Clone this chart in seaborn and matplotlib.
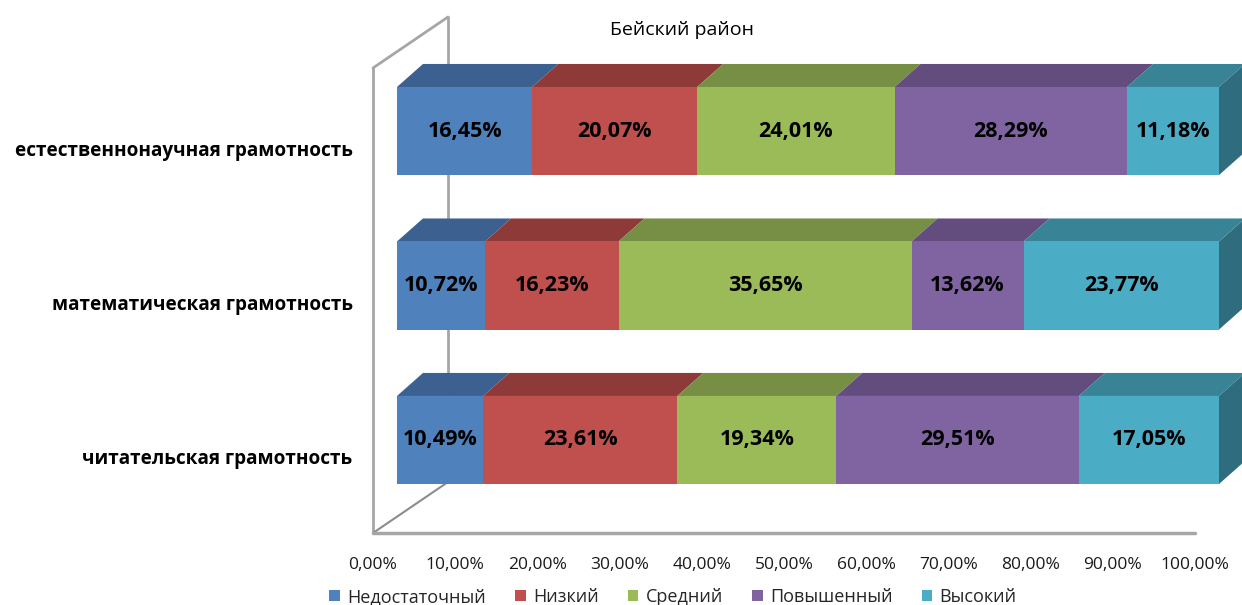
import matplotlib
matplotlib.use("Agg")
import matplotlib.pyplot as plt
from matplotlib.patches import Polygon, Patch
from matplotlib.transforms import ScaledTranslation
import numpy as np
import pandas as pd
import seaborn as sns

# Данные
categories = ["естественнонаучная грамотность", "математическая грамотность", "читательская грамотность"]
levels = ["Недостаточный", "Низкий", "Средний", "Повышенный", "Высокий"]
nedostatochny = [16.45, 10.72, 10.49]
nizky = [20.07, 16.23, 23.61]
sredny = [24.01, 35.65, 19.34]
povyshenny = [28.29, 13.62, 29.51]
vysoky = [11.18, 23.77, 17.05]
xticks = [0, 10, 20, 30, 40, 50, 60, 70, 80, 90, 100]
title = "Бейский район"

front_colors = ["#4F81BD", "#C0504D", "#9BBB59", "#8064A2", "#4BACC6"]
top_colors = ["#3C6190", "#8E3A38", "#778F44", "#634D7E", "#398397"]
side_color = "#2F6D7E"
wall_color = "#A6A6A6"

sns.set_style("white")
plt.rcParams["font.family"] = ["Open Sans", "DejaVu Sans"]

df = pd.DataFrame(
    {"cat": categories, levels[0]: nedostatochny, levels[1]: nizky,
     levels[2]: sredny, levels[3]: povyshenny, levels[4]: vysoky}
)
cum = df[levels].cumsum(axis=1)

fig = plt.figure(figsize=(12.42, 6.05), dpi=100)
ax = fig.add_axes([397 / 1242, 72 / 605, 822 / 1242, 516 / 605])

bar_h = 0.57
dx, dy = 3.16, 0.149  # глубина 3D в единицах данных

# передние грани: накопленные суммы, от большего к меньшему
for lev, col in reversed(list(zip(levels, front_colors))):
    sns.barplot(x=cum[lev], y=df["cat"], orient="h", color=col, width=bar_h,
                saturation=1, ax=ax, zorder=3, linewidth=0)

# верхние и боковые грани
for j in range(len(categories)):
    top = j - bar_h / 2
    left = 0.0
    for k, lev in enumerate(levels):
        right = cum.loc[j, lev]
        ax.add_patch(Polygon([(left, top), (right, top), (right + dx, top - dy), (left + dx, top - dy)],
                             closed=True, facecolor=top_colors[k], edgecolor="none", zorder=2,
                             clip_on=False))
        val = df.loc[j, lev]
        ax.text((left + right) / 2, j, f"{val:.2f}%".replace(".", ","), ha="center", va="center",
                fontsize=15.5, fontweight="bold", color="black", zorder=5)
        left = right
    ax.add_patch(Polygon([(100, top), (100 + dx, top - dy), (100 + dx, j + bar_h / 2 - dy), (100, j + bar_h / 2)],
                         closed=True, facecolor=side_color, edgecolor="none", zorder=2, clip_on=False))

ax.set_xlim(0, 100)
ax.set_ylim(2.602, -0.738)

# стенки и пол
fx, bx = -2.92, 6.2
ax.plot([fx, fx], [2.602, -0.408], color=wall_color, lw=2, clip_on=False, zorder=1)
ax.plot([fx, bx], [-0.408, -0.738], color=wall_color, lw=2, clip_on=False, zorder=1)
ax.plot([bx, bx], [-0.738, 2.272], color=wall_color, lw=2, clip_on=False, zorder=1)
ax.plot([fx, bx], [2.602, 2.272], color="#8C8C8C", lw=1.5, clip_on=False, zorder=1)
ax.plot([fx, 100 + fx], [2.602, 2.602], color=wall_color, lw=2.5, clip_on=False, zorder=1)

for s in ax.spines.values():
    s.set_visible(False)

ax.set_xticks(xticks)
ax.set_xticklabels([f"{t:.2f}%".replace(".", ",") for t in xticks], fontsize=12.5, color="#1A1A1A")
ax.tick_params(axis="x", length=0, pad=17)
for lbl in ax.get_xticklabels():
    lbl.set_transform(lbl.get_transform() + ScaledTranslation(-0.24, 0, fig.dpi_scale_trans))

ax.set_yticks(range(len(categories)))
ax.set_yticklabels(categories, fontsize=13.7, fontweight="bold", color="black")
ax.tick_params(axis="y", length=0, pad=32)
for lbl in ax.get_yticklabels():
    lbl.set_transform(lbl.get_transform() + ScaledTranslation(0, -0.17, fig.dpi_scale_trans))
ax.set_xlabel("")
ax.set_ylabel("")

fig.text(682 / 1242, 1 - 30 / 605, title, ha="center", va="center", fontsize=14, color="black")

handles = [Patch(facecolor=c, edgecolor="none", label=l) for l, c in zip(levels, front_colors)]
fig.legend(handles=handles, loc="center", bbox_to_anchor=(673 / 1242, 1 - 597 / 605), ncol=5,
           frameon=False, fontsize=13, handlelength=0.6, handleheight=0.6, handletextpad=0.4,
           columnspacing=1.6, borderpad=0)

fig.savefig("out.png", dpi=100)
